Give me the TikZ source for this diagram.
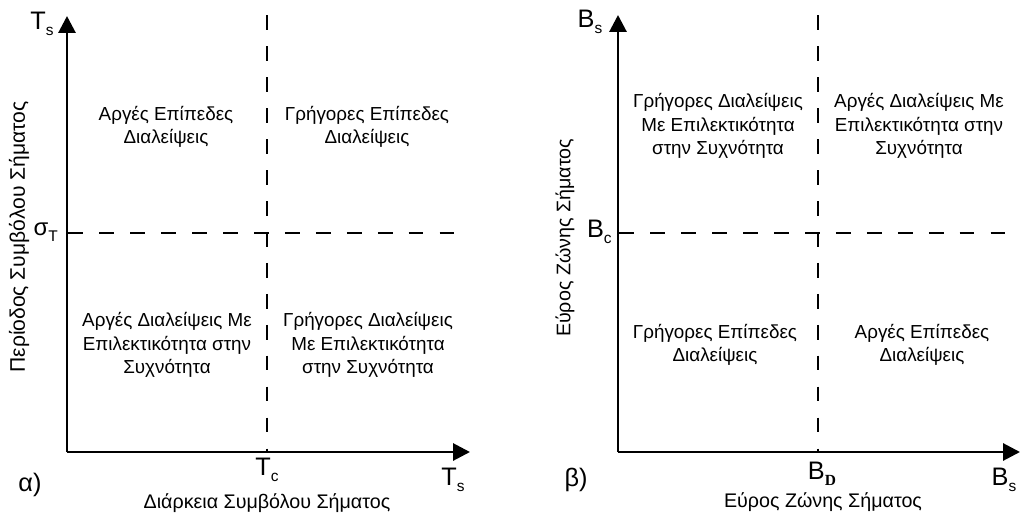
\documentclass[tikz,border=0pt]{standalone}
\usepackage{fontspec}
\setmainfont{Liberation Sans}
\usetikzlibrary{arrows.meta,positioning}
\newcommand{\lowsub}[1]{\raisebox{-0.45ex}{\fontsize{11}{12}\selectfont #1}}
\tikzset{
  axis/.style={line width=2.1pt, -{Triangle[length=12pt,width=12pt]}},
  limit/.style={line width=2.1pt, dash pattern=on 10.5pt off 11.5pt, dash phase=-1pt},
  region/.style={font=\fontsize{13.4}{16.5}\selectfont, align=center, inner sep=0pt},
  sym/.style={font=\fontsize{18}{20}\selectfont, inner sep=0pt},
  axtitle/.style={font=\fontsize{14}{16}\selectfont, inner sep=0pt},
}
\begin{document}
\begin{tikzpicture}[x=0.025cm, y=-0.025cm, >=Latex]
  \useasboundingbox (0,0) rectangle (1020,518);
  % panel a
  \coordinate (oa) at (67,452);
  \coordinate (ya) at (67,16);
  \coordinate (xa) at (470,452);
  \coordinate (tcbot) at (267,452);
  \coordinate (tctop) at (267,14);
  \coordinate (stend) at (462,233);
  \coordinate (stbeg) at (67,233);
  \draw[limit] (tctop) -- (tcbot);
  \draw[limit] (stbeg) -- (stend);
  \draw[axis] (oa) -- (ya);
  \draw[axis] (oa) -- (xa);
  \node[sym] (tsy) at (42,24) {T\lowsub{s}};
  \node[sym, anchor=east, font=\fontsize{17}{20}\selectfont] (sigt) at (58,232) {σ\lowsub{T}};
  \node[sym] (tcl) at (267,470) {T\lowsub{c}};
  \node[sym] (tsx) at (453,480) {T\lowsub{s}};
  \node[sym] (la) at (30,485) {α)};
  \node[axtitle] (xta) at (267,503) {Διάρκεια Συμβόλου Σήματος};
  \node[axtitle, rotate=90, font=\fontsize{15}{17}\selectfont] (yta) at (19,237) {Περίοδος Συμβόλου Σήματος};
  \node[region] (a1) at (166,127) {Αργές Επίπεδες\\Διαλείψεις};
  \node[region] (a2) at (367,127) {Γρήγορες Επίπεδες\\Διαλείψεις};
  \node[region] (a3) at (167,345) {Αργές Διαλείψεις Με\\Επιλεκτικότητα στην\\Συχνότητα};
  \node[region] (a4) at (368,345) {Γρήγορες Διαλείψεις\\Με Επιλεκτικότητα\\στην Συχνότητα};
  % panel b
  \coordinate (ob) at (618,452);
  \coordinate (yb) at (618,15);
  \coordinate (xb) at (1020,452);
  \coordinate (bdbot) at (818,452);
  \coordinate (bdtop) at (818,14);
  \coordinate (bcbeg) at (618,233);
  \coordinate (bcend) at (1018,233);
  \draw[limit] (bdtop) -- (bdbot);
  \draw[limit] (bcbeg) -- (bcend);
  \draw[axis] (ob) -- (yb);
  \draw[axis] (ob) -- (xb);
  \node[sym] (bsy) at (590,22) {B\lowsub{s}};
  \node[sym, anchor=east] (bcl) at (612,232) {B\lowsub{c}};
  \node[sym] (bdl) at (822,474) {B\lowsub{\fontspec{Liberation Serif}\bfseries D}};
  \node[sym] (bsx) at (1004,480) {B\lowsub{s}};
  \node[sym] (lb) at (576,480) {β)};
  \node[axtitle] (xtb) at (823,502) {Εύρος Ζώνης Σήματος};
  \node[axtitle, rotate=90] (ytb) at (565,238) {Εύρος Ζώνης Σήματος};
  \node[region] (b1) at (718,126) {Γρήγορες Διαλείψεις\\Με Επιλεκτικότητα\\στην Συχνότητα};
  \node[region] (b2) at (919,126) {Αργές Διαλείψεις Με\\Επιλεκτικότητα στην\\Συχνότητα};
  \node[region] (b3) at (715,345) {Γρήγορες Επίπεδες\\Διαλείψεις};
  \node[region] (b4) at (922,345) {Αργές Επίπεδες\\Διαλείψεις};
\end{tikzpicture}
\end{document}
